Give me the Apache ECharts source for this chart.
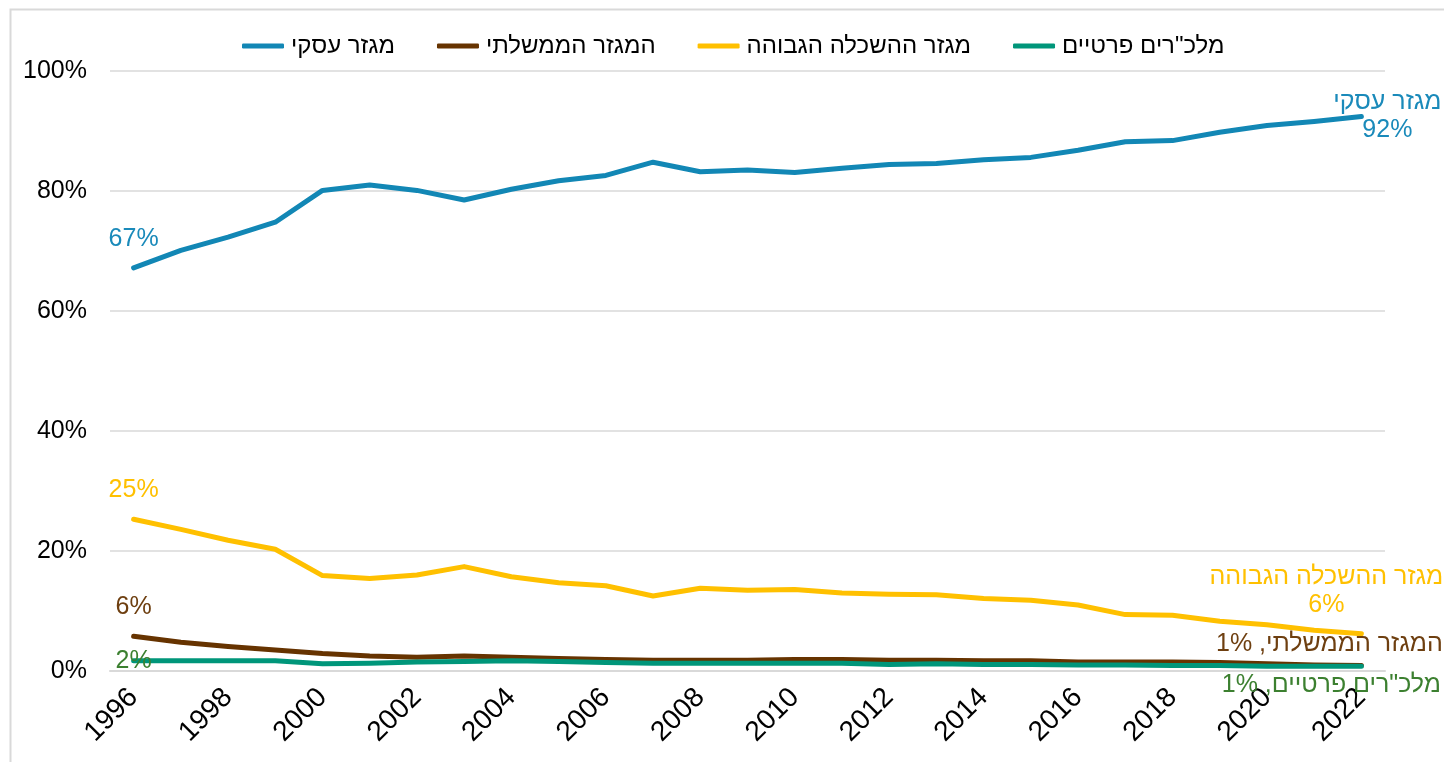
<!DOCTYPE html>
<html>
<head>
<meta charset="utf-8">
<script src="https://cdn.jsdelivr.net/npm/echarts@6/dist/echarts.min.js"></script>
<style>
html,body{margin:0;padding:0;background:#fff;}
#c{width:1444px;height:762px;direction:rtl;}
</style>
</head>
<body>
<div id="c"></div>
<script>
const years = ['1996','1997','1998','1999','2000','2001','2002','2003','2004','2005','2006','2007','2008','2009','2010','2011','2012','2013','2014','2015','2016','2017','2018','2019','2020','2021','2022'];
const seriesNames = ['מגזר עסקי','המגזר הממשלתי','מגזר ההשכלה הגבוהה','מלכ"רים פרטיים'];
const business = [67.2,70.1,72.3,74.8,80.1,81.0,80.1,78.5,80.3,81.7,82.6,84.8,83.2,83.5,83.1,83.8,84.4,84.6,85.2,85.6,86.8,88.2,88.4,89.8,90.9,91.6,92.4];
const government = [5.8,4.8,4.1,3.5,2.9,2.5,2.3,2.5,2.3,2.1,1.9,1.8,1.8,1.8,1.9,1.9,1.8,1.8,1.7,1.7,1.5,1.5,1.5,1.4,1.2,1.0,0.9];
const higherEd = [25.3,23.6,21.8,20.3,15.9,15.4,16.0,17.4,15.7,14.7,14.2,12.5,13.8,13.45,13.6,13.0,12.8,12.7,12.1,11.8,11.0,9.4,9.3,8.3,7.7,6.8,6.2];
const nonProfit = [1.7,1.7,1.7,1.7,1.2,1.3,1.5,1.6,1.7,1.6,1.4,1.3,1.3,1.3,1.3,1.3,1.1,1.2,1.1,1.1,1.0,1.0,0.9,0.9,0.8,0.8,0.8];
const startLabels = ['67%','6%','25%','2%'];
const endLabels = ['מגזר עסקי\n92%','המגזר הממשלתי, 1%','מגזר ההשכלה הגבוהה\n6%','מלכ"רים פרטיים, 1%'];

const lineColors = ['#1287B5','#663300','#FFC000','#00967A'];
const labelColors = ['#1A8ABA','#6E3F10','#FFC000','#3C8030'];
const startOffsets = [[0,-29],[0,-29],[0,-29],[0,0]];
const endOffsets = [[26,0],[-32,-21],[-35,-43],[-30,19]];
const allData = [business, government, higherEd, nonProfit];

const font = '"Liberation Sans", Arial, sans-serif';

function buildData(arr, i) {
  return arr.map((v, k) => {
    if (k === 0) {
      return {value: v, label: {show: true, position: 'inside', offset: startOffsets[i], formatter: startLabels[i], align: 'center', verticalAlign: 'middle'}};
    }
    if (k === arr.length - 1) {
      return {value: v, label: {show: true, position: 'inside', offset: endOffsets[i], formatter: endLabels[i], align: 'center', verticalAlign: 'middle', lineHeight: 28}};
    }
    return v;
  });
}

const chart = echarts.init(document.getElementById('c'), null, {renderer: 'canvas'});
chart.setOption({
  animation: false,
  backgroundColor: '#fff',
  graphic: [{
    type: 'rect', left: 8, top: 7, silent: true, z: -10,
    shape: {width: 1500, height: 800},
    style: {fill: 'none', stroke: '#d9d9d9', lineWidth: 2}
  }],
  legend: {
    top: 29,
    left: 237,
    icon: 'roundRect',
    itemWidth: 42,
    itemHeight: 5,
    itemGap: 42,
    textStyle: {fontFamily: font, fontSize: 24, color: '#000', padding: [0, 0, 0, 2]},
    data: seriesNames
  },
  grid: {left: 110, right: 59, top: 71, bottom: 91, containLabel: false},
  xAxis: {
    type: 'category',
    data: years,
    boundaryGap: true,
    axisLine: {show: true, lineStyle: {color: '#d9d9d9', width: 2}},
    axisTick: {show: false},
    axisLabel: {interval: 1, rotate: 45, margin: 22, fontFamily: font, fontSize: 28, color: '#000'},
    splitLine: {show: false}
  },
  yAxis: {
    type: 'value',
    min: 0, max: 100, interval: 20,
    axisLine: {show: false},
    axisTick: {show: false},
    axisLabel: {formatter: '{value}%', margin: 23, fontFamily: font, fontSize: 25, color: '#000'},
    splitLine: {lineStyle: {color: '#d9d9d9', width: 1.5}}
  },
  series: seriesNames.map((name, i) => ({
    name: name,
    type: 'line',
    data: buildData(allData[i], i),
    symbol: 'circle',
    symbolSize: 0,
    showSymbol: true,
    showAllSymbol: true,
    lineStyle: {color: lineColors[i], width: 5, cap: 'round', join: 'round'},
    itemStyle: {color: lineColors[i]},
    label: {show: false, color: labelColors[i], fontFamily: font, fontSize: 25},
    emphasis: {disabled: true}
  }))
});
</script>
</body>
</html>
